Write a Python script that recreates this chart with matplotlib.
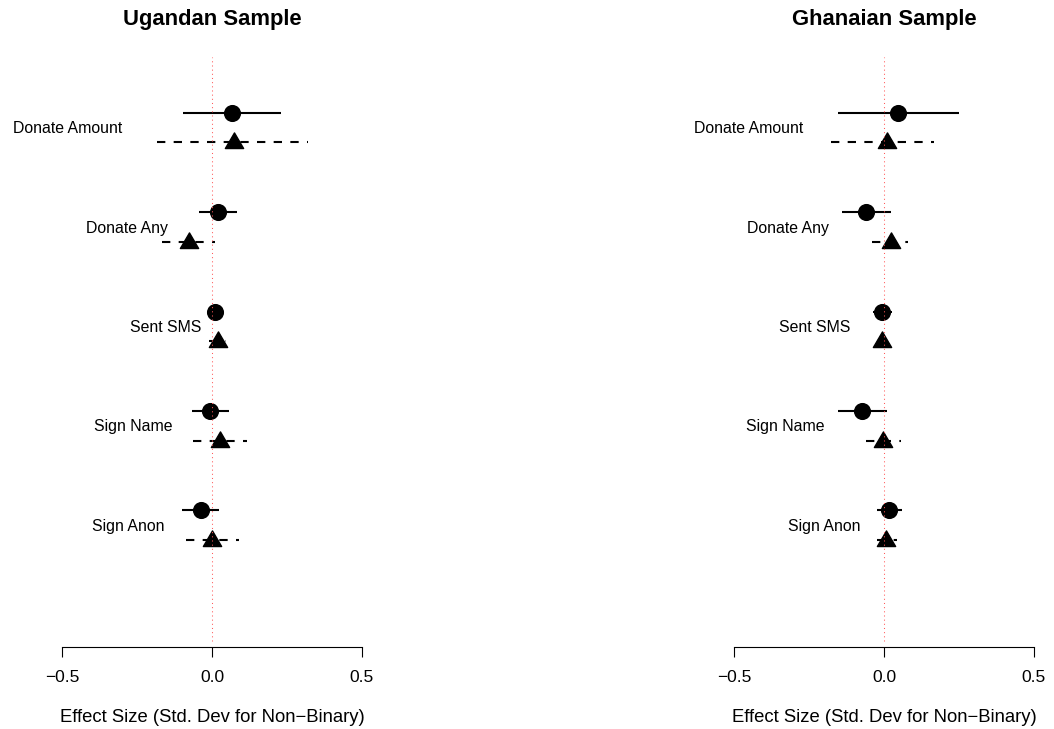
import matplotlib
matplotlib.use("Agg")
import matplotlib.pyplot as plt
import matplotlib.path as mpath
import numpy as np

plt.rcParams['font.family'] = ['Liberation Sans', 'DejaVu Sans']

outcomes = ["Donate Amount", "Donate Any", "Sent SMS", "Sign Name", "Sign Anon"]

# Uganda: circle series (solid CI) and triangle series (dashed CI)
uga_c_est = [0.068, 0.021, 0.011, -0.006, -0.038]
uga_c_lo = [-0.096, -0.042, 0.004, -0.067, -0.099]
uga_c_hi = [0.229, 0.082, 0.018, 0.058, 0.024]
uga_t_est = [0.074, -0.077, 0.019, 0.026, 0.000]
uga_t_lo = [-0.184, -0.166, -0.009, -0.062, -0.088]
uga_t_hi = [0.321, 0.010, 0.046, 0.116, 0.089]

# Ghana
gha_c_est = [0.048, -0.059, -0.006, -0.072, 0.017]
gha_c_lo = [-0.154, -0.141, -0.036, -0.154, -0.022]
gha_c_hi = [0.250, 0.023, 0.028, 0.010, 0.059]
gha_t_est = [0.010, 0.022, -0.008, -0.003, 0.007]
gha_t_lo = [-0.178, -0.040, -0.022, -0.061, -0.024]
gha_t_hi = [0.168, 0.079, 0.006, 0.058, 0.042]

# label anchor (right edge, data units)
uga_label_x = [-0.299, -0.146, -0.035, -0.132, -0.160]
gha_label_x = [-0.269, -0.183, -0.113, -0.200, -0.080]

titles = ["Ugandan Sample", "Ghanaian Sample"]
xticks = [-0.5, 0.0, 0.5]
xticklabels = ["\u22120.5", "0.0", "0.5"]
xlabel = "Effect Size (Std. Dev for Non\u2212Binary)"

W, H = 1054, 729
fig = plt.figure(figsize=(W / 100, H / 100), dpi=100)

tri = mpath.Path([(-1, -0.66), (1, -0.66), (0, 1.05), (-1, -0.66)],
                 [mpath.Path.MOVETO, mpath.Path.LINETO, mpath.Path.LINETO, mpath.Path.CLOSEPOLY])

panels = [
    dict(px=(10, 414), zero=212, title=titles[0],
         c=(uga_c_est, uga_c_lo, uga_c_hi), t=(uga_t_est, uga_t_lo, uga_t_hi), lx=uga_label_x),
    dict(px=(682, 1050), zero=884, title=titles[1],
         c=(gha_c_est, gha_c_lo, gha_c_hi), t=(gha_t_est, gha_t_lo, gha_t_hi), lx=gha_label_x),
]

top_px, bot_px = 57, 647
off = 0.1485
for p in panels:
    l, r = p['px']
    ax = fig.add_axes([l / W, (H - bot_px) / H, (r - l) / W, (bot_px - top_px) / H])
    ax.set_xlim(-0.5 - (p['zero'] - 150 - l) / 300, 0.5 + (r - (p['zero'] + 150)) / 300)
    ax.set_ylim(5.225, -0.71)
    ypos = np.arange(len(outcomes))
    est, lo, hi = p['c']
    for i in range(len(outcomes)):
        ax.plot([lo[i], hi[i]], [ypos[i] - off] * 2, color='black', lw=1.5, solid_capstyle='butt', zorder=2)
    ax.plot(est, ypos - off, linestyle='none', marker='o', markersize=11.3,
            color='black', zorder=3)
    est, lo, hi = p['t']
    for i in range(len(outcomes)):
        ax.plot([lo[i], hi[i]], [ypos[i] + off] * 2, color='black', lw=1.5,
                linestyle=(0, (4, 4)), dash_capstyle='butt', zorder=2)
    ax.plot(est, ypos + off, linestyle='none', marker=tri, markersize=13.8,
            color='black', zorder=3)
    for i, name in enumerate(outcomes):
        ax.text(p['lx'][i], ypos[i] + 0.057, name, ha='right', va='baseline', fontsize=11.4)
    ax.axvline(0, ymin=0.0102, ymax=1, color='#ff5a5a', lw=0.75, linestyle=(0, (1, 3)), zorder=4)
    for s in ['top', 'right', 'left']:
        ax.spines[s].set_visible(False)
    ax.spines['bottom'].set_bounds(-0.5, 0.5)
    ax.spines['bottom'].set_linewidth(0.8)
    ax.set_yticks([])
    ax.set_xticks(xticks)
    ax.set_xticklabels(xticklabels, fontsize=12.5)
    ax.tick_params(axis='x', length=7.2, width=0.8, pad=9, direction='out')
    ax.annotate(p['title'], xy=(0, H - 25), xycoords=('data', 'figure pixels'),
                ha='center', va='baseline', fontsize=15.8, fontweight='bold')
    ax.annotate(xlabel, xy=(0, H - 721.5), xycoords=('data', 'figure pixels'),
                ha='center', va='baseline', fontsize=13.3)
    ax.patch.set_visible(False)

fig.savefig("out.png", dpi=100)
